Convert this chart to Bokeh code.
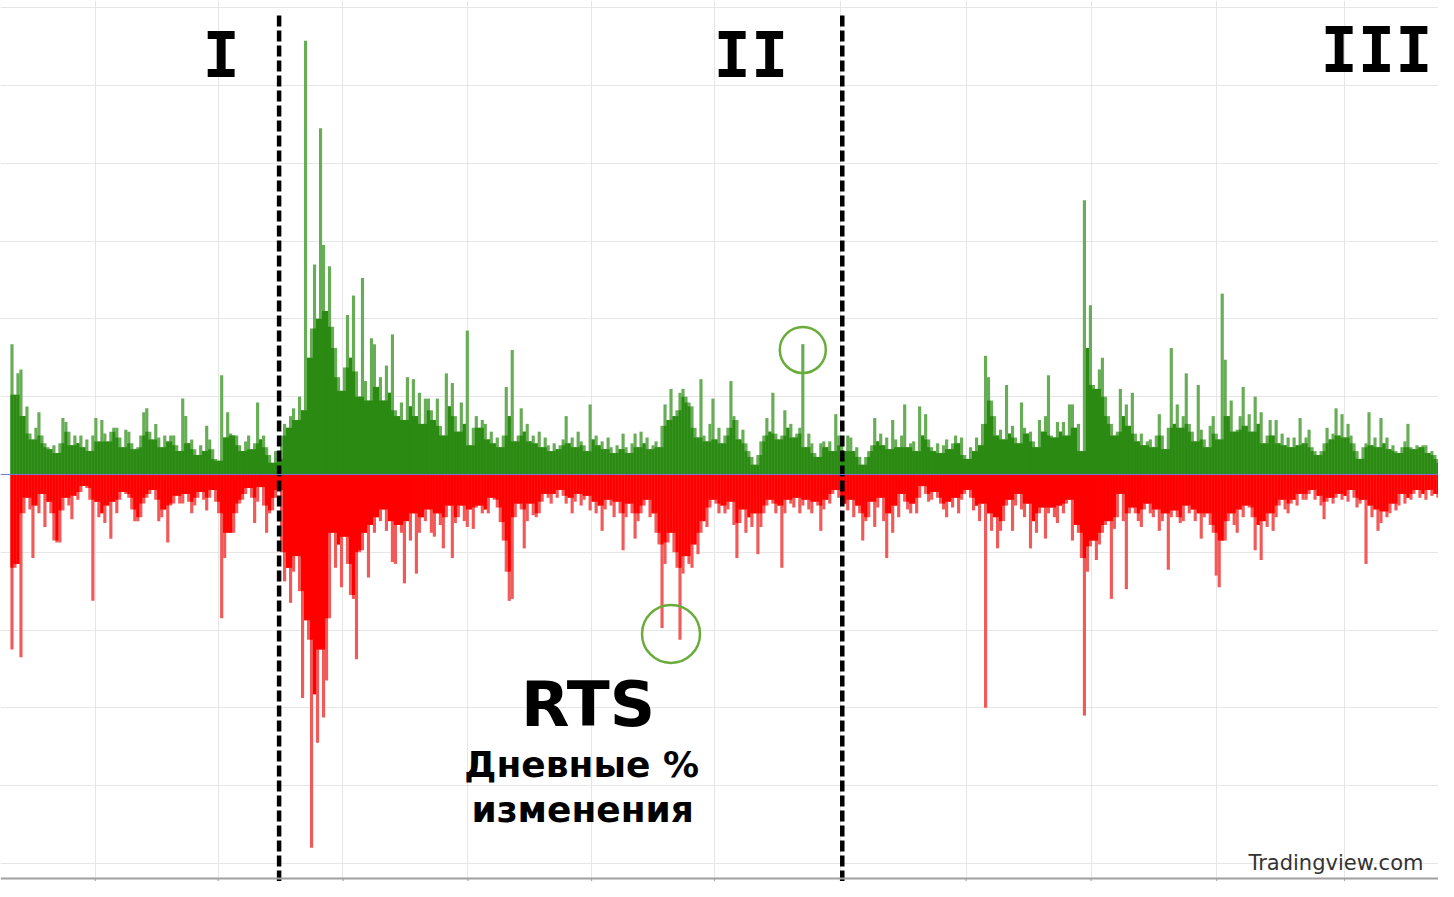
from bokeh.plotting import figure
from bokeh.models import Range1d, FixedTicker, Label, Span, Grid
from bokeh.embed import file_html
from bokeh.resources import INLINE

# Daily % changes of RTS (each slot: the up move and the down move)
gains = [
    6.7, 4.1, 5.2, 5.4, 3.0, 3.5, 2.1, 1.8, 2.4, 3.2,
    2.0, 1.6, 1.4, 1.3, 1.5, 1.1, 1.6, 2.9, 2.7, 2.2,
    1.5, 2.0, 1.6, 2.0, 1.4, 1.8, 1.2, 2.0, 2.9, 1.7,
    2.8, 2.1, 1.7, 2.2, 2.4, 2.4, 1.9, 1.4, 2.3, 2.2,
    1.6, 1.3, 1.4, 2.0, 3.2, 3.4, 2.2, 1.8, 2.6, 1.9,
    1.4, 2.0, 1.7, 2.0, 2.0, 1.5, 1.2, 3.9, 3.0, 1.6,
    1.8, 1.3, 1.0, 1.5, 1.2, 2.5, 1.8, 1.3, 0.8, 0.7,
    5.1, 1.9, 3.2, 2.1, 2.0, 2.0, 1.5, 1.2, 1.7, 2.0,
    1.3, 1.6, 3.7, 1.8, 2.0, 1.4, 1.0, 0.6, 1.2, 0.8,
    2.0, 2.6, 2.4, 3.0, 3.4, 2.8, 4.0, 3.3, 22.3, 6.0,
    7.5, 10.8, 8.0, 17.8, 11.8, 8.4, 10.7, 7.6, 6.5, 5.0,
    4.3, 5.5, 8.2, 6.0, 9.2, 5.3, 4.0, 10.1, 4.8, 3.8,
    7.0, 6.7, 4.5, 5.0, 3.8, 5.6, 4.2, 7.2, 3.3, 3.0,
    3.7, 2.8, 5.0, 3.5, 4.9, 3.0, 4.2, 2.6, 3.9, 3.9,
    3.3, 2.8, 3.9, 2.5, 2.0, 5.2, 3.5, 4.7, 3.0, 2.2,
    3.7, 2.6, 7.4, 1.5, 2.4, 3.0, 2.4, 2.8, 2.6, 1.8,
    2.2, 1.6, 1.9, 1.4, 2.0, 4.5, 3.0, 6.4, 1.7, 2.0,
    3.4, 2.2, 2.6, 1.7, 2.0, 1.6, 2.2, 1.4, 1.9, 1.5,
    1.2, 1.6, 1.3, 1.5, 1.8, 3.0, 1.6, 1.9, 1.4, 2.2,
    1.7, 1.5, 1.2, 3.6, 1.8, 2.0, 1.5, 1.7, 1.3, 1.9,
    1.4, 1.1, 1.5, 1.3, 2.1, 1.4, 1.1, 1.6, 2.1, 1.4,
    2.2, 1.6, 1.9, 1.3, 1.5, 1.7, 1.4, 2.5, 3.6, 2.8,
    4.4, 3.0, 3.3, 4.2, 4.4, 4.0, 3.7, 3.5, 2.4, 1.9,
    4.9, 2.0, 1.7, 2.6, 3.9, 1.8, 2.4, 1.6, 2.0, 2.4,
    4.8, 3.0, 2.8, 1.8, 2.3, 1.6, 1.2, 0.9, 0.5, 1.0,
    1.7, 2.0, 2.9, 2.2, 4.2, 2.1, 1.8, 2.0, 3.3, 2.4,
    2.6, 1.9, 2.1, 2.4, 6.7, 1.4, 2.1, 1.6, 1.1, 0.9,
    1.6, 1.7, 1.4, 1.7, 1.2, 3.1, 2.0, 1.5, 1.2, 2.0,
    1.9, 1.2, 1.4, 0.9, 0.5, 0.9, 1.2, 1.5, 2.9, 1.7,
    2.1, 1.5, 1.9, 1.3, 2.8, 1.8, 1.4, 2.0, 3.6, 1.4,
    1.6, 1.7, 1.2, 3.5, 2.0, 3.1, 1.8, 1.4, 1.2, 1.6,
    1.1, 1.5, 1.8, 1.3, 1.6, 2.0, 1.6, 1.9, 1.0, 0.8,
    1.4, 1.2, 1.9, 1.5, 2.6, 6.1, 5.0, 3.8, 3.0, 2.0,
    2.3, 1.8, 4.6, 2.1, 2.5, 1.9, 1.6, 3.7, 2.4, 2.1,
    2.2, 1.7, 1.4, 2.8, 2.2, 3.0, 5.1, 2.0, 1.9, 2.7,
    2.2, 2.7, 2.0, 3.6, 3.6, 2.4, 2.6, 1.2, 14.1, 6.5,
    8.7, 4.6, 4.4, 5.4, 6.0, 4.0, 3.0, 2.6, 2.0, 2.2,
    4.4, 3.0, 3.6, 2.5, 4.2, 2.1, 1.7, 2.1, 1.5, 1.7,
    1.8, 1.4, 2.0, 3.1, 2.0, 1.3, 2.4, 6.5, 2.6, 3.6,
    2.4, 3.0, 5.2, 2.6, 2.2, 1.7, 4.6, 2.3, 1.8, 1.4,
    2.5, 3.0, 2.1, 1.8, 9.3, 5.9, 3.0, 3.8, 2.2, 2.3,
    3.0, 4.5, 2.5, 3.1, 2.2, 4.0, 2.6, 3.2, 1.6, 2.0,
    2.8, 2.0, 2.8, 1.6, 2.1, 1.5, 1.9, 1.4, 1.9, 1.5,
    2.9, 1.6, 1.9, 2.3, 1.4, 1.2, 1.0, 1.2, 1.6, 2.4,
    1.8, 2.1, 3.4, 2.0, 3.1, 1.9, 2.6, 2.0, 1.6, 1.2,
    0.8, 1.4, 1.6, 3.2, 1.5, 1.9, 1.4, 2.9, 1.6, 1.9,
    1.3, 1.5, 1.2, 1.1, 1.4, 1.7, 2.6, 1.4, 1.3, 1.5,
    1.4, 1.5, 1.5, 1.1, 1.2, 1.0, 0.8, 0.6,
]

losses = [
    9.0, 4.8, 4.6, 9.4, 2.0, 1.2, 1.8, 4.3, 1.6, 2.0,
    1.0, 2.7, 1.4, 2.0, 3.4, 3.5, 3.5, 1.85, 1.2, 1.6,
    2.3, 1.1, 1.3, 0.9, 0.6, 0.7, 1.3, 6.5, 1.4, 2.2,
    2.0, 2.5, 1.6, 3.3, 1.4, 2.0, 1.3, 0.9, 1.0, 1.2,
    1.8, 2.4, 2.4, 2.2, 1.5, 1.2, 1.0, 0.8, 1.3, 2.4,
    2.2, 1.8, 3.5, 1.6, 1.5, 1.1, 1.5, 1.5, 1.0, 1.4,
    2.0, 1.6, 1.2, 0.9, 1.3, 1.85, 1.2, 0.8, 1.4, 2.0,
    7.4, 4.3, 3.0, 3.0, 3.0, 2.0, 1.5, 1.3, 1.0, 0.7,
    1.2, 2.5, 1.4, 0.65, 1.6, 3.0, 2.0, 1.85, 1.2, 0.8,
    4.0, 5.5, 4.8, 6.6, 5.0, 4.2, 6.0, 11.5, 7.5, 8.5,
    19.2, 11.3, 13.8, 9.0, 12.5, 10.6, 7.4, 3.0, 4.8, 3.6,
    5.8, 3.2, 4.6, 6.2, 6.4, 9.5, 4.0, 3.9, 3.0, 5.3,
    2.6, 3.0, 2.2, 2.4, 1.8, 2.9, 2.4, 4.5, 4.6, 2.6,
    3.0, 5.6, 2.4, 3.4, 2.0, 5.1, 3.0, 2.2, 2.4, 1.8,
    3.0, 3.2, 2.0, 2.6, 3.8, 2.2, 1.6, 4.3, 2.5, 2.2,
    1.6, 2.4, 2.7, 1.8, 2.8, 1.7, 1.6, 2.0, 1.8, 2.0,
    1.2, 1.3, 1.7, 2.45, 3.4, 5.0, 6.5, 6.4, 2.2, 1.5,
    1.8, 3.8, 2.4, 1.5, 2.1, 2.2, 2.0, 1.4, 1.0, 1.2,
    1.5, 1.0, 1.2, 0.8, 1.1, 1.5, 1.2, 2.0, 1.4, 1.0,
    1.6, 1.3, 1.1, 1.85, 1.4, 2.0, 1.6, 2.9, 1.8, 1.3,
    1.6, 2.2, 1.4, 2.0, 3.9, 2.2, 1.5, 2.0, 3.3, 2.4,
    2.0, 1.6, 1.3, 2.2, 2.0, 3.0, 3.6, 7.9, 4.6, 3.5,
    3.0, 4.0, 4.8, 8.5, 5.1, 4.2, 4.6, 4.8, 3.6, 4.1,
    3.0, 2.4, 2.7, 1.7, 1.3, 1.5, 2.0, 1.6, 2.0, 1.8,
    1.4, 2.6, 4.3, 2.5, 1.8, 3.0, 2.2, 2.7, 2.0, 4.1,
    2.7, 2.0, 1.6, 1.3, 1.5, 2.0, 1.6, 4.8, 2.0, 1.3,
    1.5, 1.7, 1.2, 2.0, 1.6, 1.3, 1.8, 2.0, 1.4, 1.6,
    2.9, 1.8, 1.3, 1.5, 1.0, 0.8, 1.2, 1.5, 1.5, 1.85,
    1.3, 2.2, 1.6, 2.0, 3.4, 2.4, 2.2, 1.4, 2.7, 1.7,
    1.2, 2.4, 4.3, 2.0, 3.0, 1.6, 2.2, 1.0, 1.4, 1.8,
    2.0, 1.5, 2.0, 1.2, 0.6, 1.0, 1.4, 1.3, 0.9, 1.2,
    1.5, 1.8, 2.2, 1.4, 1.7, 1.2, 2.0, 1.3, 1.0, 0.8,
    1.2, 1.85, 1.6, 2.4, 1.5, 12.0, 2.0, 2.9, 2.2, 3.8,
    2.9, 2.4, 1.6, 1.3, 2.9, 1.6, 1.0, 1.8, 2.2, 1.5,
    3.8, 2.4, 3.0, 2.0, 1.7, 3.3, 2.0, 1.7, 2.2, 2.5,
    1.6, 2.0, 1.5, 1.3, 3.4, 2.6, 3.0, 4.3, 12.4, 5.0,
    3.7, 3.4, 4.4, 3.6, 3.0, 2.6, 2.4, 6.4, 2.8, 2.2,
    1.0, 2.4, 5.9, 2.0, 1.7, 2.0, 2.4, 2.7, 1.8, 1.5,
    2.0, 2.2, 1.8, 2.9, 2.4, 2.0, 4.9, 2.2, 1.85, 2.2,
    2.5, 2.4, 1.6, 2.0, 1.8, 2.4, 2.0, 3.3, 2.2, 2.0,
    2.6, 3.0, 5.2, 5.8, 3.4, 3.4, 2.4, 2.0, 2.6, 3.0,
    1.8, 2.2, 1.6, 1.7, 2.2, 3.9, 2.6, 4.4, 2.4, 2.7,
    2.0, 2.9, 2.2, 1.6, 1.3, 1.8, 2.0, 1.5, 1.3, 1.6,
    1.0, 1.3, 1.3, 1.0, 0.8, 1.3, 1.1, 1.6, 2.3, 1.4,
    1.2, 1.5, 1.2, 1.0, 1.3, 1.1, 1.4, 0.8, 1.2, 1.7,
    1.5, 1.3, 4.6, 1.6, 2.2, 1.8, 2.9, 2.5, 1.9, 2.2,
    2.0, 1.5, 1.85, 1.6, 1.0, 1.5, 1.2, 1.3, 1.0, 0.8,
    1.2, 1.0, 1.3, 0.8, 1.1, 1.0, 1.2, 1.0,
]

# Year boundaries (slot index) for the vertical grid and bottom ticks
year_ticks = [27.8, 68.8, 110.5, 152.2, 193.5, 234.5, 276.5, 318.5, 360.2, 402.2, 444.8]
# Horizontal grid, % steps
y_ticks = [-20, -16, -12, -8, -4, 0, 4, 8, 12, 16, 20, 24]
# Regime boundaries (slot index) and labels
regime_breaks = [89.17, 277.17]
regime_labels = ["I", "II", "III"]
# Highlighted days
highlight_up = [264]
highlight_down = [217, 223]

xg = list(range(len(gains)))
xl = list(range(len(losses)))


def neighbour_floor(vals):
    n = len(vals)
    return [min(vals[max(i - 1, 0)], vals[i], vals[min(i + 1, n - 1)]) for i in range(n)]


g_core = neighbour_floor(gains)
l_core = neighbour_floor(losses)

Y_MIN, Y_MAX = -20.93, 24.37
AXIS_Y = -20.78

p = figure(width=1438, height=881, output_backend="svg", toolbar_location=None,
           x_range=Range1d(-3.833, 476.2), y_range=Range1d(Y_MIN, Y_MAX),
           x_axis_location=None, y_axis_location=None,
           min_border_left=0, min_border_right=0, min_border_top=0, min_border_bottom=0,
           background_fill_color="white", border_fill_color="white")
p.outline_line_color = None

p.center = [r for r in p.center if not isinstance(r, Grid)]
p.add_layout(Grid(dimension=0, ticker=FixedTicker(ticks=year_ticks),
                  grid_line_color="#e6e6e6", grid_line_width=1))
p.add_layout(Grid(dimension=1, ticker=FixedTicker(ticks=y_ticks),
                  grid_line_color="#e6e6e6", grid_line_width=1))

W = 1.05
# green: light tops, darker dense core
p.vbar(x=xg, top=gains, bottom=0, width=W, fill_color="#66ad55", line_color=None)
p.vbar(x=xg, top=g_core, bottom=0, width=W, fill_color="#2a8a12", line_color=None)
# red
p.vbar(x=xl, top=0, bottom=[-v for v in losses], width=W, fill_color="#f25a5a", line_color=None)
p.vbar(x=xl, top=0, bottom=[-v for v in l_core], width=W, fill_color="#ff0000", line_color=None)

p.add_layout(Span(location=0, dimension="width", line_color="#7878d8", line_width=1))

# bottom axis line with ticks
p.add_layout(Span(location=AXIS_Y, dimension="width", line_color="#a0a0a0", line_width=2))
p.segment(x0=year_ticks, y0=[AXIS_Y] * len(year_ticks), x1=year_ticks,
          y1=[Y_MIN] * len(year_ticks), line_color="#a0a0a0", line_width=1)

# regime boundaries
p.segment(x0=regime_breaks, y0=[Y_MIN] * len(regime_breaks), x1=regime_breaks,
          y1=[23.7] * len(regime_breaks), line_color="black", line_width=4.5, line_dash="11 4")

# highlight circles
p.scatter(x=[highlight_up[0]], y=[gains[highlight_up[0]] - 0.3], marker="circle", size=46,
          fill_color=None, line_color="#6aac3c", line_width=2.5)
hx = sum(highlight_down) / len(highlight_down)
hy = -sum(losses[i] for i in highlight_down) / len(highlight_down)
p.scatter(x=[hx], y=[hy], marker="circle", size=58,
          fill_color=None, line_color="#6aac3c", line_width=2.5)

# regime labels
label_pos = [(69.83, 21.56), (246.67, 21.56), (455.5, 21.82)]
for txt, (lx, ly) in zip(regime_labels, label_pos):
    p.add_layout(Label(x=lx, y=ly, text=txt, text_align="center", text_baseline="alphabetic",
                       text_font="DejaVu Sans Mono", text_font_style="bold",
                       text_font_size="62px", text_color="black"))

p.add_layout(Label(x=192.33, y=-11.83, text="RTS", text_align="center", text_baseline="alphabetic",
                   text_font="DejaVu Sans", text_font_style="bold", text_font_size="63px",
                   text_color="black"))
p.add_layout(Label(x=190.17, y=-14.91, text="Дневные %", text_align="center",
                   text_baseline="alphabetic", text_font="DejaVu Sans", text_font_style="bold",
                   text_font_size="36px", text_color="black"))
p.add_layout(Label(x=190.5, y=-17.22, text="изменения", text_align="center",
                   text_baseline="alphabetic", text_font="DejaVu Sans", text_font_style="bold",
                   text_font_size="36px", text_color="black"))
p.add_layout(Label(x=471.17, y=-19.98, text="Tradingview.com", text_align="right",
                   text_baseline="alphabetic", text_font="DejaVu Sans", text_font_size="21px",
                   text_color="#333333"))

open("out.html", "w").write(file_html(p, INLINE))
